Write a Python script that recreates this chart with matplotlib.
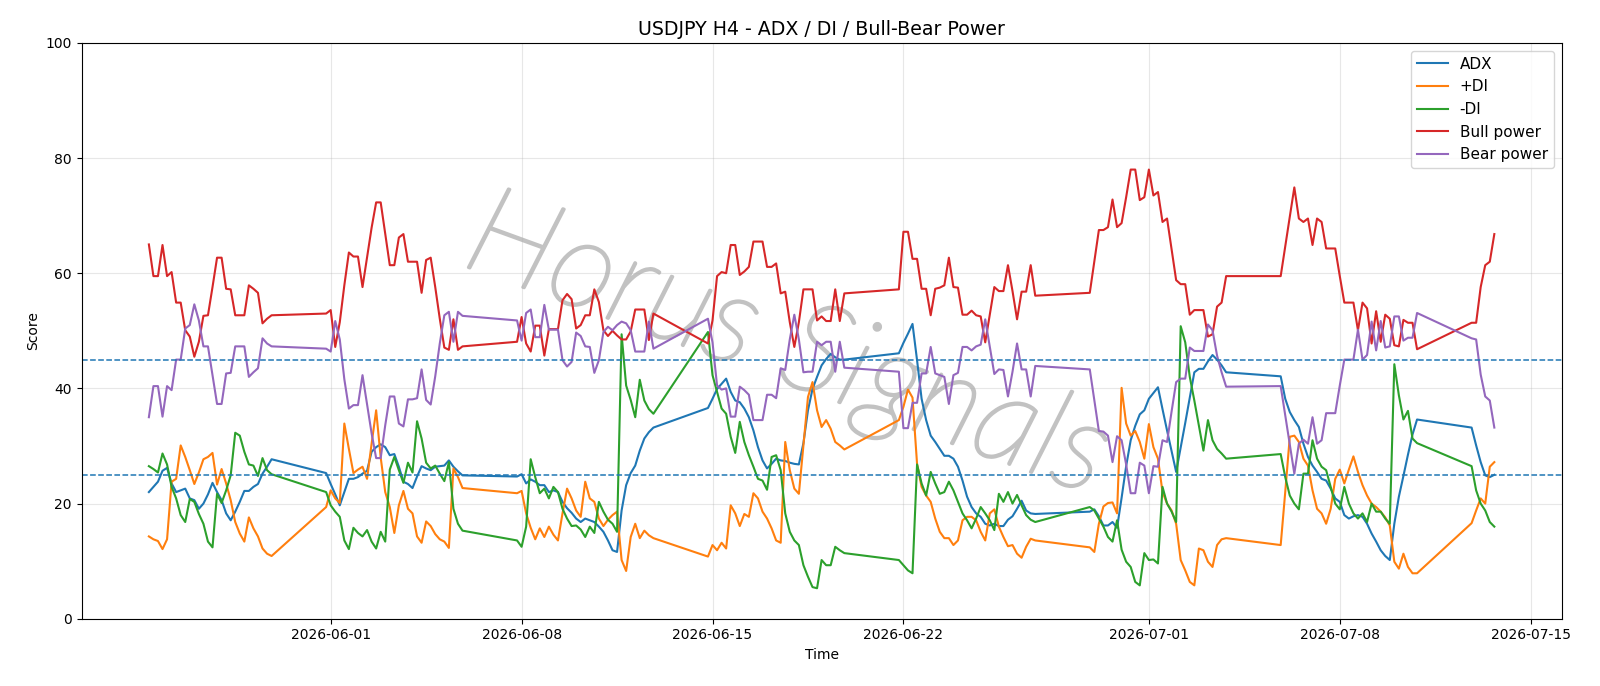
import matplotlib
matplotlib.use('Agg')  # no display
import matplotlib.pyplot as plt
import matplotlib.patheffects as pe
import pandas as pd

# H4 bars: Mon-Fri every 4h plus the Sunday 20:00 open bar
start = '2026-05-25 08:00'
end = '2026-07-13 16:00'

# values per bar, grouped by week (Sun 20:00 | Mon | Tue | Wed | Thu | Fri)
adx = [
    22.0, 22.9, 23.8, 25.7, 26.2, 23.5, 22.0, 22.3, 22.6, 20.9, 20.6, 19.1, 20.0, 21.6,
    23.6, 22.0, 20.6, 18.3, 17.1, 18.6, 20.3, 22.2, 22.2, 22.9, 23.4, 25.2, 26.4, 27.7,
    25.3, 23.4, 21.6, 19.7, 22.0, 24.3, 24.3, 24.6, 25.2, 25.7, 29.0, 29.8, 30.3,
    29.8, 28.4, 28.6, 26.4, 23.8, 23.4, 22.7, 24.7, 26.5, 26.1, 25.8, 26.4,
    26.5, 26.6, 27.5, 26.4, 25.6, 24.9,
    24.7, 25.1, 23.5, 24.2, 23.8, 23.2, 23.2, 22.0, 22.3, 22.0, 20.3, 19.2, 18.4,
    17.4, 16.8, 17.4, 17.1, 16.8, 16.0, 15.1, 13.6, 11.9, 11.6, 18.8, 23.2,
    25.3, 26.6, 29.2, 31.3, 32.4, 33.2,
    36.6, 38.2, 39.9, 40.8, 41.7, 39.4, 37.9, 37.6, 36.5, 35.0, 32.7, 29.8, 27.5,
    26.1, 26.9, 27.8, 27.5, 27.4, 27.1, 26.9, 26.8, 30.5, 36.2, 39.9, 42.0,
    44.0, 45.1, 46.0, 45.4, 45.0, 45.0,
    46.1, 47.9, 49.5, 51.2, 44.9, 38.2, 34.5, 31.8, 30.7, 29.5, 28.3, 28.3, 27.8,
    26.4, 24.0, 21.2, 19.4, 18.3, 17.7, 16.5, 16.2, 16.5, 16.1, 16.1, 17.2,
    17.8, 19.1, 20.5, 18.8, 18.3, 18.2,
    18.6, 19.0, 17.8, 16.2, 16.2, 16.8, 15.8, 21.0, 26.5, 31.0, 33.5, 35.5, 36.2,
    38.2, 39.2, 40.2, 36.4, 32.7, 29.1, 25.5, 29.7, 34.0, 38.4, 42.8, 43.4,
    43.4, 44.7, 45.8, 45.0, 44.0, 42.8,
    42.1, 38.2, 35.9, 34.5, 33.3, 30.4, 28.1, 26.6, 25.5, 24.3, 24.0, 22.6, 20.9,
    20.3, 18.0, 17.4, 17.8, 18.0, 17.7, 16.5, 14.8, 13.4, 11.9, 10.9, 10.2,
    16.5, 21.2, 24.8, 28.5, 32.0, 34.6,
    33.2, 30.1, 27.2, 24.9, 24.6, 25.0,
]

plus_di = [
    14.3, 13.8, 13.5, 12.1, 13.8, 23.8, 24.3, 30.1, 28.1, 25.8, 23.4, 25.4, 27.7, 28.1,
    28.8, 23.3, 26.0, 23.5, 20.6, 16.8, 14.8, 13.4, 17.6, 15.7, 14.3, 12.2, 11.3, 10.9,
    19.4, 22.3, 20.9, 20.1, 33.9, 29.5, 25.3, 25.9, 26.4, 24.3, 30.4, 36.2, 28.0,
    22.0, 19.4, 14.9, 19.7, 22.2, 19.1, 18.3, 14.3, 13.2, 16.9, 16.1, 14.7,
    13.8, 13.4, 12.3, 26.1, 24.6, 22.7,
    21.8, 22.2, 18.3, 15.8, 13.8, 15.7, 14.2, 16.0, 14.6, 13.6, 18.3, 22.6, 20.9,
    18.8, 17.7, 23.8, 20.9, 20.3, 17.4, 16.1, 17.2, 18.0, 18.6, 10.2, 8.3,
    14.2, 16.5, 14.0, 15.3, 14.5, 14.0,
    10.8, 12.8, 11.9, 13.2, 12.2, 19.7, 18.3, 16.1, 18.2, 17.7, 21.8, 20.9, 18.6,
    17.4, 15.7, 13.6, 13.2, 30.7, 25.8, 22.6, 21.7, 30.0, 38.5, 41.1, 36.2,
    33.3, 34.5, 33.0, 30.7, 30.1, 29.4,
    34.5, 36.8, 39.8, 38.4, 26.9, 22.9, 21.4, 20.3, 17.4, 15.1, 14.0, 14.0, 12.8,
    13.6, 17.1, 17.7, 17.7, 17.1, 15.1, 13.6, 18.3, 19.0, 16.0, 14.2, 12.6,
    12.8, 11.3, 10.6, 12.5, 13.9, 13.6,
    12.4, 11.6, 16.5, 19.5, 20.1, 20.2, 18.3, 40.1, 33.9, 31.8, 32.6, 30.7, 27.8,
    33.8, 29.8, 27.8, 22.0, 20.0, 18.8, 16.5, 10.2, 8.4, 6.4, 5.8, 12.2,
    11.9, 9.9, 9.0, 12.8, 13.8, 14.0,
    12.8, 22.0, 31.6, 31.8, 30.7, 27.8, 26.6, 22.3, 19.1, 18.3, 16.5, 19.1, 24.3,
    25.9, 23.5, 25.9, 28.2, 25.5, 23.2, 21.4, 20.0, 19.4, 18.6, 17.6, 16.2,
    9.9, 8.7, 11.3, 9.0, 7.9, 7.9,
    16.6, 18.8, 20.9, 20.0, 26.4, 27.2,
]

minus_di = [
    26.5, 26.0, 25.4, 28.7, 26.8, 22.9, 20.9, 18.0, 16.8, 20.8, 20.3, 18.2, 16.5, 13.4,
    12.4, 21.7, 20.1, 22.3, 24.9, 32.3, 31.8, 29.0, 26.8, 26.6, 24.8, 27.9, 25.8, 25.1,
    22.0, 19.7, 18.6, 17.7, 13.6, 12.1, 15.8, 14.9, 14.3, 15.4, 13.4, 12.2, 15.1,
    13.4, 25.9, 28.1, 25.8, 23.6, 27.1, 25.4, 34.3, 31.3, 27.1, 26.1, 26.6,
    25.2, 23.9, 27.2, 19.1, 16.5, 15.3,
    13.6, 12.5, 16.0, 27.7, 24.6, 21.8, 22.6, 20.9, 22.9, 22.0, 19.1, 17.4, 16.1,
    16.2, 15.5, 14.2, 16.0, 14.9, 20.3, 18.6, 17.2, 16.5, 15.1, 49.4, 40.5,
    38.0, 35.0, 41.5, 37.9, 36.4, 35.6,
    49.8, 42.3, 39.4, 36.5, 35.6, 31.6, 28.8, 34.2, 30.7, 28.4, 26.4, 24.3, 24.0,
    22.4, 28.1, 28.4, 25.8, 18.3, 15.1, 13.6, 12.8, 9.3, 7.3, 5.5, 5.3,
    10.2, 9.3, 9.3, 12.5, 11.9, 11.4,
    10.2, 9.3, 8.4, 7.9, 26.8, 23.5, 21.4, 25.5, 23.5, 21.7, 22.0, 23.8, 22.3,
    20.3, 18.3, 17.1, 15.7, 17.4, 19.4, 18.3, 17.1, 15.4, 21.7, 20.3, 22.0,
    20.0, 21.5, 19.7, 18.0, 17.2, 16.8,
    19.4, 18.8, 17.4, 16.0, 14.2, 13.4, 17.1, 12.0, 9.9, 9.0, 6.4, 5.8, 11.4,
    10.2, 10.3, 9.6, 22.9, 20.0, 18.6, 16.8, 50.8, 48.0, 42.0, 37.9, 33.6,
    29.2, 34.5, 31.0, 29.5, 28.7, 27.8,
    28.6, 24.6, 21.4, 20.0, 19.0, 25.2, 25.2, 31.0, 27.8, 26.4, 25.8, 22.9, 20.0,
    19.0, 22.9, 20.0, 18.3, 17.4, 18.3, 16.8, 20.0, 18.6, 18.6, 17.4, 16.5,
    44.2, 38.8, 34.6, 36.1, 31.3, 30.5,
    26.5, 22.3, 20.0, 18.8, 16.8, 16.0,
]

bull_power = [
    65.0, 59.5, 59.5, 64.9, 59.5, 60.2, 54.9, 54.9, 50.1, 49.0, 45.5, 48.1, 52.6, 52.7,
    57.6, 62.7, 62.7, 57.3, 57.2, 52.7, 52.7, 52.7, 57.9, 57.3, 56.6, 51.3, 52.1, 52.7,
    53.0, 53.6, 47.2, 51.5, 57.9, 63.6, 62.9, 62.9, 57.6, 62.8, 67.9, 72.3, 72.3,
    66.9, 61.4, 61.4, 66.2, 66.8, 62.0, 62.0, 62.0, 56.6, 62.3, 62.7, 57.6,
    52.1, 47.1, 46.7, 52.0, 46.7, 47.3,
    48.1, 52.4, 47.8, 46.4, 50.9, 50.9, 45.7, 50.3, 50.3, 50.3, 55.3, 56.4, 55.5,
    50.4, 51.0, 52.7, 52.7, 57.2, 55.0, 50.1, 49.1, 50.0, 49.2, 48.5, 48.5,
    49.9, 53.7, 53.7, 53.7, 48.4, 53.0,
    47.8, 51.8, 59.5, 60.2, 60.0, 64.9, 64.9, 59.7, 60.3, 61.1, 65.5, 65.5, 65.5,
    61.1, 61.1, 61.7, 56.5, 56.8, 51.5, 47.2, 51.5, 57.2, 57.2, 57.2, 51.8,
    52.5, 51.7, 51.7, 57.2, 51.7, 56.5,
    57.2, 67.2, 67.2, 62.5, 62.5, 57.3, 57.3, 52.7, 57.3, 57.5, 57.9, 62.7, 57.6,
    57.5, 52.8, 52.8, 53.5, 52.7, 52.5, 48.0, 52.8, 57.6, 56.9, 56.9, 61.4,
    56.9, 52.0, 56.8, 56.8, 61.4, 56.1,
    56.6, 62.0, 67.5, 67.5, 68.0, 72.8, 68.0, 68.7, 73.2, 78.0, 78.0, 72.7, 73.2,
    78.0, 73.5, 74.1, 68.9, 69.5, 64.2, 58.8, 58.1, 58.1, 52.8, 53.6, 53.6,
    53.6, 49.0, 49.4, 54.2, 54.9, 59.5,
    59.5, 64.7, 69.8, 74.9, 69.5, 68.9, 69.5, 64.9, 69.5, 68.9, 64.3, 64.3, 64.3,
    59.5, 54.9, 54.9, 54.9, 50.1, 54.9, 53.9, 47.8, 53.4, 48.1, 52.8, 52.1,
    47.5, 47.3, 51.9, 51.4, 51.4, 46.8,
    51.4, 51.4, 57.6, 61.4, 62.0, 66.8,
]

bear_power = [
    35.0, 40.4, 40.4, 35.1, 40.4, 39.7, 45.0, 45.0, 50.4, 51.0, 54.6, 51.8, 47.3, 47.3,
    42.3, 37.3, 37.3, 42.6, 42.7, 47.3, 47.3, 47.3, 42.0, 42.8, 43.5, 48.7, 47.8, 47.3,
    46.9, 46.4, 51.7, 48.5, 41.6, 36.5, 37.1, 37.1, 42.3, 37.3, 32.2, 27.9, 27.9,
    33.6, 38.6, 38.6, 33.9, 33.4, 38.1, 38.1, 38.3, 43.3, 38.0, 37.2, 42.1,
    47.8, 52.7, 53.3, 48.1, 53.3, 52.6,
    51.8, 48.3, 53.1, 53.7, 48.9, 48.9, 54.5, 50.2, 50.2, 50.2, 44.9, 43.8, 44.6,
    49.7, 49.1, 47.3, 47.2, 42.7, 44.9, 49.8, 50.7, 50.1, 51.0, 51.6, 51.3,
    50.1, 46.4, 46.4, 46.4, 51.6, 46.9,
    52.1, 48.0, 40.5, 39.8, 40.0, 35.1, 35.1, 40.3, 39.7, 38.9, 34.5, 34.5, 34.5,
    38.9, 38.9, 38.3, 43.5, 43.2, 48.5, 52.8, 48.5, 42.8, 42.9, 42.9, 48.1,
    47.5, 48.1, 48.1, 42.9, 48.1, 43.6,
    42.9, 33.1, 33.1, 37.5, 37.5, 42.6, 42.6, 47.2, 42.6, 42.3, 42.0, 37.3, 42.3,
    42.7, 47.2, 47.2, 46.6, 47.3, 47.6, 52.0, 47.2, 42.5, 43.3, 43.2, 38.6,
    42.9, 47.8, 43.3, 43.3, 38.6, 43.9,
    43.3, 38.0, 32.6, 32.5, 31.8, 27.2, 31.7, 31.0, 26.8, 21.8, 21.8, 27.1, 26.6,
    21.8, 26.5, 26.4, 31.0, 30.7, 36.0, 41.1, 41.7, 41.7, 47.1, 46.5, 46.5,
    46.5, 51.1, 50.1, 45.7, 42.8, 40.3,
    40.4, 35.3, 30.2, 25.2, 30.4, 31.1, 30.4, 35.0, 30.4, 31.0, 35.7, 35.7, 35.7,
    40.5, 45.0, 45.0, 45.0, 50.2, 45.0, 45.8, 51.6, 46.6, 51.7, 47.1, 47.3,
    52.5, 52.5, 48.3, 48.8, 48.8, 53.1,
    48.7, 48.5, 42.4, 38.6, 37.9, 33.2,
]

levels = [25, 45]

rng = pd.date_range(start, end, freq='4h')
times = [t for t in rng if t.dayofweek < 5 or (t.dayofweek == 6 and t.hour == 20)]

fig, ax = plt.subplots(figsize=(16, 6.86), dpi=100)
fig.subplots_adjust(left=0.051, right=0.976, top=0.9375, bottom=0.098)

# watermark: thin strokes thickened a little with a path effect
ax.text(0.477, 0.47, 'Horus Signals', transform=ax.transAxes, fontsize=90,
        family=['Lato', 'DejaVu Sans'], fontweight='light', style='italic',
        color='#c2c2c2', rotation=-20, ha='center', va='center', zorder=0,
        path_effects=[pe.withStroke(linewidth=2.2, foreground='#c2c2c2')])

ax.plot(times, adx, label='ADX')
ax.plot(times, plus_di, label='+DI')
ax.plot(times, minus_di, label='-DI')
ax.plot(times, bull_power, label='Bull power')
ax.plot(times, bear_power, label='Bear power')

for lv in levels:
    ax.axhline(lv, color='tab:blue', linestyle='--', linewidth=1.1)

ax.set_ylim(0, 100)
ax.set_title('USDJPY H4 - ADX / DI / Bull-Bear Power', fontsize=13.7)
ax.set_xlabel('Time')
ax.set_ylabel('Score')
ax.grid(True, alpha=0.3)
ax.legend(loc='upper right', fontsize=11)

plt.savefig('out.png')
plt.close()
